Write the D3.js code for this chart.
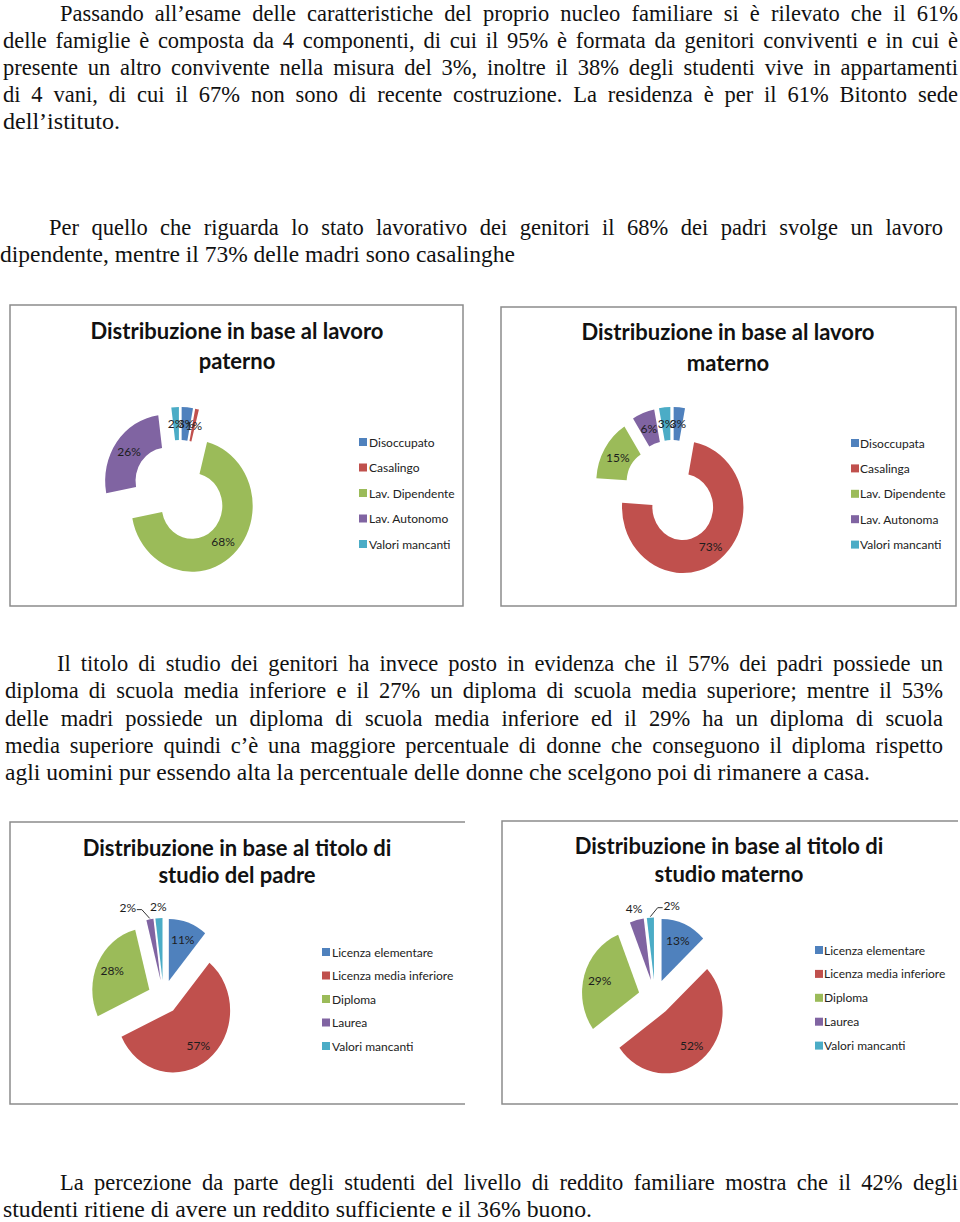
<!DOCTYPE html>
<html>
<head>
<meta charset="utf-8">
<script src="https://cdn.jsdelivr.net/npm/d3@7"></script>
<style>
  html, body { margin: 0; padding: 0; background: #fff; }
  svg { display: block; }
  .body { font-family: "Liberation Serif", "Times New Roman", serif; font-size: 22.5px; fill: #111; }
  .ctitle { font-family: Lato, "Open Sans", sans-serif; font-weight: 700; font-size: 22px; fill: #111; }
  .legend text { font-family: Lato, "Open Sans", sans-serif; font-size: 12px; fill: #222; }
  .plabel { font-family: Lato, "Open Sans", sans-serif; font-size: 12px; fill: #1d1d1d; }
</style>
</head>
<body>
<svg id="page" width="960" height="1222"></svg>
<script>
// ---- data ----
const paternoLabels = ["Disoccupato", "Casalingo", "Lav. Dipendente", "Lav. Autonomo", "Valori mancanti"];
const paternoValues = [3, 1, 68, 26, 2];

const maternoLabels = ["Disoccupata", "Casalinga", "Lav. Dipendente", "Lav. Autonoma", "Valori mancanti"];
const maternoValues = [3, 73, 15, 6, 3];

const titoloLabels = ["Licenza elementare", "Licenza media inferiore", "Diploma", "Laurea", "Valori mancanti"];
const titoloPadreValues = [11, 57, 28, 2, 2];
const titoloMadreValues = [13, 52, 29, 4, 2];

const sliceColors = ["#4F81BD", "#C0504D", "#9BBB59", "#8064A2", "#4BACC6"];

const para1 = [
  "Passando all’esame delle caratteristiche del proprio nucleo familiare si è rilevato che il 61%",
  "delle famiglie è composta da 4 componenti, di cui il 95% è formata da genitori conviventi e in cui è",
  "presente un altro convivente nella misura del 3%, inoltre il 38% degli studenti vive in appartamenti",
  "di 4 vani, di cui il 67% non sono di recente costruzione. La residenza è per il 61% Bitonto sede",
  "dell’istituto.",
];
const para2 = [
  "Per quello che riguarda lo stato lavorativo dei genitori il 68% dei padri svolge un lavoro",
  "dipendente, mentre il 73% delle madri sono casalinghe",
];
const para3 = [
  "Il titolo di studio dei genitori ha invece posto in evidenza che il 57% dei padri possiede un",
  "diploma di scuola media inferiore e il 27% un diploma di scuola media superiore; mentre il 53%",
  "delle madri possiede un diploma di scuola media inferiore ed il 29% ha un diploma di scuola",
  "media superiore quindi c’è una maggiore percentuale di donne che conseguono il diploma rispetto",
  "agli uomini pur essendo alta la percentuale delle donne che scelgono poi di rimanere a casa.",
];
const para4 = [
  "La percezione da parte degli studenti del livello di reddito familiare mostra che il 42% degli",
  "studenti ritiene di avere un reddito sufficiente e il 36% buono.",
];

// ---- layout ----
const svg = d3.select("#page");
const SX = 0.92; // the scanned page is slightly squeezed horizontally

const paragraphs = [
  { lines: para1, y0: 20.5, lh: 27, firstX: 60, restX: 3, right: 958, lastEnd: 120 },
  { lines: para2, y0: 235, lh: 27, firstX: 49, restX: 0, right: 943, lastEnd: 515 },
  { lines: para3, y0: 671, lh: 27.25, firstX: 57, restX: 5, right: 943, lastEnd: 870 },
  { lines: para4, y0: 1190, lh: 27, firstX: 60, restX: 3, right: 958, lastEnd: 592 },
];

function drawLine(g, str, x0, x1, y, justify) {
  const t = g.append("text").attr("class", "body").attr("x", x0).attr("y", y).text(str);
  const w = t.node().getComputedTextLength();
  const target = x1 - x0;
  if (!justify) {
    if (Math.abs(w - target) > 2) {
      t.attr("textLength", target).attr("lengthAdjust", "spacingAndGlyphs");
    }
    return;
  }
  const gaps = str.split(" ").length - 1;
  const extra = gaps > 0 ? (target - w) / gaps : 0;
  if (extra >= -1.5) {
    t.attr("word-spacing", extra.toFixed(2));
  } else {
    t.attr("textLength", target).attr("lengthAdjust", "spacingAndGlyphs");
  }
}

const textLayer = svg.append("g");
for (const p of paragraphs) {
  p.lines.forEach((line, i) => {
    const last = i === p.lines.length - 1;
    const x0 = i === 0 ? p.firstX : p.restX;
    drawLine(textLayer, line, x0, last ? p.lastEnd : p.right, p.y0 + i * p.lh, !last);
  });
}

// ---- charts ----
const charts = [
  {
    title: ["Distribuzione in base al lavoro", "paterno"],
    labels: paternoLabels, values: paternoValues, donut: true,
    box: { x: 10, y: 305, w: 453, h: 301 }, rightBorder: true,
    titleY: [34, 64], center: [170, 187], R: 66, explode: 19,
    legend: { sq: 349, tx: 359, y0: 137, step: 25.5 },
    nudge: [0, 0, 0, 0, 0],
  },
  {
    title: ["Distribuzione in base al lavoro", "materno"],
    labels: maternoLabels, values: maternoValues, donut: true,
    box: { x: 501, y: 307, w: 455, h: 299 }, rightBorder: true,
    titleY: [33, 64], center: [171, 185], R: 66, explode: 19,
    legend: { sq: 350, tx: 359, y0: 136, step: 25.4 },
    nudge: [0, 0, 0, 0, 0],
  },
  {
    title: ["Distribuzione in base al titolo di", "studio del padre"],
    labels: titoloLabels, values: titoloPadreValues, donut: false,
    box: { x: 10, y: 822, w: 455, h: 282 }, rightBorder: false,
    titleY: [34, 61], center: [153.5, 175], R: 62, explode: 17,
    legend: { sq: 312, tx: 322, y0: 130, step: 23.5 },
    nudge: [0, 0, 0, -20, 0],
  },
  {
    title: ["Distribuzione in base al titolo di", "studio materno"],
    labels: titoloLabels, values: titoloMadreValues, donut: false,
    box: { x: 502, y: 821, w: 456, h: 283 }, rightBorder: false,
    titleY: [33, 61], center: [153, 176.5], R: 62, explode: 18,
    legend: { sq: 313, tx: 322, y0: 129, step: 23.9 },
    nudge: [0, 0, 0, 0, 22],
  },
];

const pie = d3.pie().sort(null).value((d) => d);

function drawChart(c) {
  const { x, y, w, h } = c.box;
  const g = svg.append("g").attr("transform", `translate(${x},${y})`);

  // frame
  const frame = c.rightBorder
    ? `M0,0H${w}V${h}H0Z`
    : `M${w},0H0V${h}H${w}`;
  g.append("path").attr("d", frame).attr("fill", "none")
    .attr("stroke", "#8c8c8c").attr("stroke-width", 1.5);

  // title
  c.title.forEach((t, i) => {
    g.append("text").attr("class", "ctitle")
      .attr("x", 227).attr("y", c.titleY[i])
      .attr("text-anchor", "middle").text(t);
  });

  // slices
  const [cx, cy] = c.center;
  const R = c.R;
  const arc = d3.arc().innerRadius(c.donut ? R * 0.5 : 0).outerRadius(R);
  const arcs = pie(c.values);
  const mid = (a) => (a.startAngle + a.endAngle) / 2;

  const pieG = g.append("g").attr("transform", `translate(${cx},${cy})`);
  pieG.selectAll("g.slice").data(arcs).join("g")
    .attr("class", "slice")
    .attr("transform", (a) => {
      const m = mid(a);
      return `scale(${SX},1) translate(${c.explode * Math.sin(m)},${-c.explode * Math.cos(m)})`;
    })
    .append("path")
    .attr("d", arc)
    .attr("fill", (a, i) => sliceColors[i]);

  // labels
  const labelR = c.donut ? R * 0.75 : R * 0.72;
  const toXY = (m, r) => [SX * r * Math.sin(m), -r * Math.cos(m)];
  const labelPos = arcs.map((a, i) => {
    const m = mid(a);
    const outside = !c.donut && c.values[i] < 5;
    const r = c.explode + (outside ? R + 12 : labelR);
    const [lx, ly] = toXY(m, r);
    return { x: lx + c.nudge[i], y: ly, m, outside, nudged: c.nudge[i] !== 0 };
  });

  // leader lines for labels moved away from their slice
  labelPos.forEach((p) => {
    if (!p.nudged) return;
    const [ex, ey] = toXY(p.m, c.explode + R + 1);
    const dir = Math.sign(ex - p.x);
    const sx0 = p.x + dir * 9;
    const sy0 = p.y + 2;
    pieG.append("path")
      .attr("d", `M${sx0},${sy0}H${sx0 + dir * 5}L${ex},${ey}`)
      .attr("fill", "none").attr("stroke", "#333").attr("stroke-width", 1);
  });

  pieG.selectAll("text.plabel").data(arcs).join("text")
    .attr("class", "plabel")
    .attr("x", (a, i) => labelPos[i].x)
    .attr("y", (a, i) => labelPos[i].y)
    .attr("text-anchor", "middle")
    .attr("dominant-baseline", "central")
    .text((a) => `${a.data}%`);

  // legend
  const lg = g.append("g").attr("class", "legend");
  const rowY = d3.scalePoint().domain(c.labels).range([c.legend.y0, c.legend.y0 + c.legend.step * (c.labels.length - 1)]);
  const rows = lg.selectAll("g").data(c.labels).join("g")
    .attr("transform", (d) => `translate(0,${rowY(d)})`);
  rows.append("rect")
    .attr("x", c.legend.sq).attr("y", -4).attr("width", 8).attr("height", 8)
    .attr("fill", (d, i) => sliceColors[i]);
  rows.append("text")
    .attr("x", c.legend.tx).attr("y", 0)
    .attr("dominant-baseline", "central")
    .text((d) => d);
}

charts.forEach(drawChart);
</script>
</body>
</html>
